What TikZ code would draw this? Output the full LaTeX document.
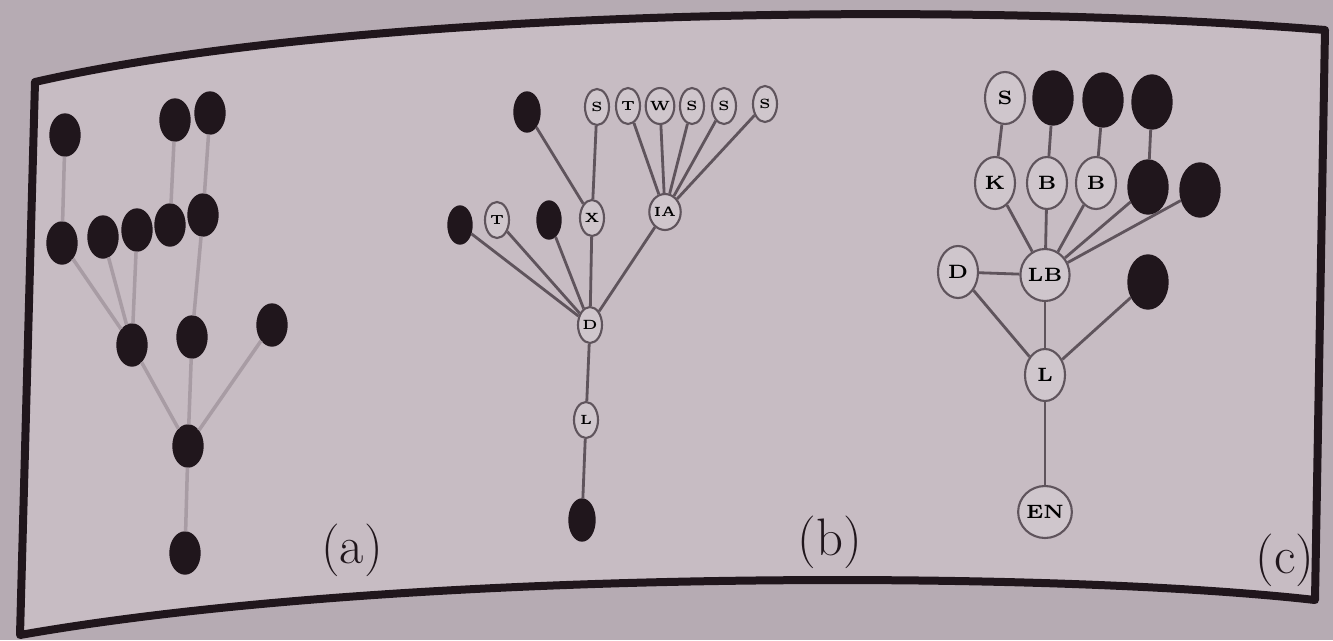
\documentclass[tikz,border=0pt]{standalone}
\usepackage{tikz}
\usetikzlibrary{shapes.geometric}
\definecolor{pagebg}{RGB}{199,188,195}
\definecolor{deskbg}{RGB}{182,171,179}
\definecolor{inkdark}{RGB}{32,22,28}
\definecolor{inkline}{RGB}{95,84,92}
\definecolor{inkfaint}{RGB}{168,156,164}

\begin{document}
\begin{tikzpicture}[
  blk/.style={ellipse, fill=inkdark, draw=inkdark, inner sep=0pt, minimum width=0.30cm, minimum height=0.42cm},
  wsm/.style={ellipse, fill=pagebg!85!white, draw=inkline, line width=0.6pt, inner sep=0pt, minimum width=0.24cm, minimum height=0.36cm, font=\fontsize{3.8}{4}\selectfont\bfseries},
  bsm/.style={blk, minimum width=0.24cm, minimum height=0.38cm},
  wbig/.style={ellipse, fill=pagebg!85!white, draw=inkline, line width=0.6pt, inner sep=0pt, minimum width=0.40cm, minimum height=0.52cm, font=\fontsize{5.5}{6}\selectfont\bfseries},
  bbig/.style={blk, minimum width=0.40cm, minimum height=0.54cm},
  faint/.style={draw=inkfaint, line width=1pt},
  lnk/.style={draw=inkline, line width=0.8pt},
  tag/.style={font=\fontsize{15}{18}\selectfont, text=inkdark}
]
  \useasboundingbox (0,0) rectangle (13.33,6.40);
  \fill[deskbg] (0,0) rectangle (13.33,6.40);
  % curved page frame
  \fill[pagebg] (0.35,5.58) .. controls (3.5,6.30) and (9.5,6.40) .. (13.25,6.10)
    -- (13.15,0.40) .. controls (10.5,0.70) and (4.0,0.72) .. (0.20,0.05) -- cycle;
  \draw[inkdark, line width=0.08cm, line join=round] (0.35,5.58) .. controls (3.5,6.30) and (9.5,6.40) .. (13.25,6.10)
    -- (13.15,0.40) .. controls (10.5,0.70) and (4.0,0.72) .. (0.20,0.05) -- cycle;

  % (a)
  \node[blk] (a1) at (0.65,5.05) {};
  \node[blk] (a2) at (1.75,5.20) {};
  \node[blk] (a3) at (2.10,5.27) {};
  \node[blk] (a4) at (0.62,3.97) {};
  \node[blk] (a5) at (1.03,4.03) {};
  \node[blk] (a6) at (1.37,4.10) {};
  \node[blk] (a7) at (1.70,4.15) {};
  \node[blk] (a8) at (2.03,4.25) {};
  \node[blk] (a9) at (1.32,2.95) {};
  \node[blk] (a10) at (1.92,3.03) {};
  \node[blk] (a11) at (2.72,3.15) {};
  \node[blk] (a12) at (1.88,1.94) {};
  \node[blk] (a13) at (1.85,0.87) {};
  \draw[faint] (a1) -- (a4);
  \draw[faint] (a2) -- (a7);
  \draw[faint] (a3) -- (a8);
  \draw[faint] (a4) -- (a9);
  \draw[faint] (a5) -- (a9);
  \draw[faint] (a6) -- (a9);
  \draw[faint] (a8) -- (a10);
  \draw[faint] (a9) -- (a12);
  \draw[faint] (a10) -- (a12);
  \draw[faint] (a11) -- (a12);
  \draw[faint] (a12) -- (a13);
  \node[tag] (ta) at (3.52,0.90) {(a)};

  % (b)
  \node[bsm, minimum width=0.26cm, minimum height=0.40cm] (b1) at (5.27,5.28) {};
  \node[wsm] (b2) at (5.97,5.33) {S};
  \node[wsm] (b3) at (6.28,5.34) {T};
  \node[wsm] (b4) at (6.60,5.34) {W};
  \node[wsm] (b5) at (6.92,5.34) {S};
  \node[wsm] (b6) at (7.24,5.34) {S};
  \node[wsm] (b7) at (7.65,5.36) {S};
  \node[bsm] (b8) at (4.60,4.15) {};
  \node[wsm] (b9) at (4.97,4.20) {T};
  \node[bsm] (b10) at (5.49,4.20) {};
  \node[wsm] (b11) at (5.92,4.22) {X};
  \node[wsm] (b12) at (6.65,4.28) {IA};
  \node[wsm] (b13) at (5.90,3.15) {D};
  \node[wsm] (b14) at (5.86,2.20) {L};
  \node[bsm, minimum width=0.26cm, minimum height=0.42cm] (b15) at (5.82,1.20) {};
  \draw[lnk] (b1) -- (b11);
  \draw[lnk] (b2) -- (b11);
  \draw[lnk] (b3) -- (b12);
  \draw[lnk] (b4) -- (b12);
  \draw[lnk] (b5) -- (b12);
  \draw[lnk] (b6) -- (b12);
  \draw[lnk] (b7) -- (b12);
  \draw[lnk] (b8) -- (b13);
  \draw[lnk] (b9) -- (b13);
  \draw[lnk] (b10) -- (b13);
  \draw[lnk] (b11) -- (b13);
  \draw[lnk] (b12) -- (b13);
  \draw[lnk] (b13) -- (b14);
  \draw[lnk] (b14) -- (b15);
  \node[tag] (tb) at (8.30,0.98) {(b)};

  % (c)
  \node[wbig] (c1) at (10.05,5.42) {S};
  \node[bbig] (c2) at (10.53,5.42) {};
  \node[bbig] (c3) at (11.03,5.40) {};
  \node[bbig] (c4) at (11.52,5.38) {};
  \node[wbig] (c5) at (9.95,4.57) {K};
  \node[wbig] (c6) at (10.47,4.57) {B};
  \node[wbig] (c7) at (10.96,4.57) {B};
  \node[bbig] (c8) at (11.48,4.53) {};
  \node[bbig] (c9) at (12.00,4.50) {};
  \node[wbig] (c10) at (9.58,3.68) {D};
  \node[wbig] (c11) at (10.45,3.65) {LB};
  \node[bbig] (c12) at (11.48,3.58) {};
  \node[wbig] (c13) at (10.45,2.65) {L};
  \node[wbig] (c14) at (10.45,1.28) {EN};
  \draw[lnk] (c1) -- (c5);
  \draw[lnk] (c2) -- (c6);
  \draw[lnk] (c3) -- (c7);
  \draw[lnk] (c4) -- (c8);
  \draw[lnk] (c5) -- (c11);
  \draw[lnk] (c6) -- (c11);
  \draw[lnk] (c7) -- (c11);
  \draw[lnk] (c8) -- (c11);
  \draw[lnk] (c9) -- (c11);
  \draw[lnk] (c10) -- (c11);
  \draw[lnk] (c10) -- (c13);
  \draw[lnk] (c11) -- (c13);
  \draw[lnk] (c12) -- (c13);
  \draw[lnk] (c13) -- (c14);
  \node[tag] (tc) at (12.85,0.80) {(c)};
\end{tikzpicture}
\end{document}
